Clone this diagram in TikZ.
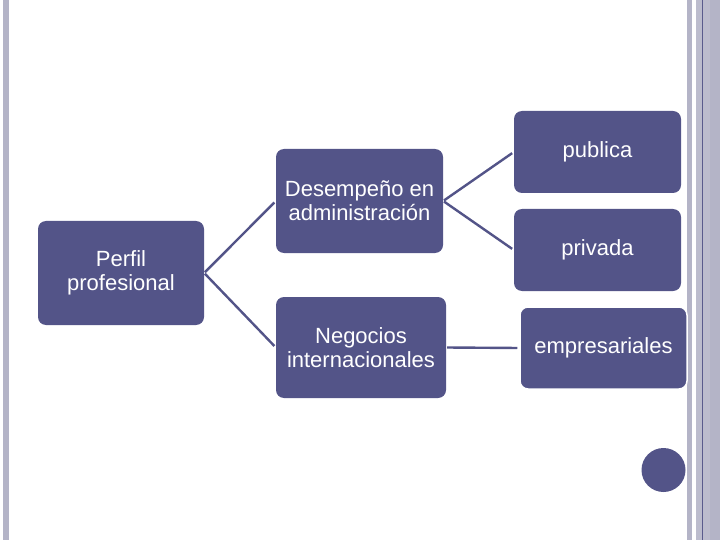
\documentclass[tikz,border=0pt]{standalone}
\usepackage{fontspec}
\setmainfont{Liberation Sans}
\usetikzlibrary{arrows.meta}

\definecolor{cajaazul}{HTML}{535488}
\definecolor{franja}{HTML}{B4B4C7}
\definecolor{franjaclara}{HTML}{BCBCCD}
\definecolor{lineafina}{HTML}{5A5B8C}

\tikzset{
    caja/.style={rectangle, rounded corners=8pt, fill=cajaazul, text=white,
        align=center, inner sep=0pt,
        font=\fontsize{22pt}{24pt}\selectfont},
    enlace/.style={draw=cajaazul, line width=2.4pt, shorten <=1pt, shorten >=2pt}
}

\begin{document}
\begin{tikzpicture}[
    x=1pt,
    y=-1pt
]

% 1. Page frame
\useasboundingbox (0,0) rectangle (720,540);
\fill[white] (0,0) rectangle (720,540);
% left stripe
\fill[franja] (3,0) rectangle (9,540);
% right stripes
\fill[franja] (687,0) rectangle (692,540);
\fill[franjaclara] (696,0) rectangle (710,540);
\fill[franja] (710,0) rectangle (720,540);
\draw[lineafina, line width=0.8pt] (702.5,0) -- (702.5,540);

% 2. Boxes
\node[caja, minimum width=166, minimum height=104] (perfil) at (121,273) {Perfil\\profesional};
\node[caja, minimum width=167, minimum height=104] (desempeno) at (359.5,201) {Desempeño en\\administración};
\node[caja, minimum width=170, minimum height=101] (negocios) at (361,347.5) {Negocios\\internacionales};
\node[caja, minimum width=167, minimum height=82] (publica) at (597.5,152) {publica};
\node[caja, minimum width=167, minimum height=82] (privada) at (597.5,250) {privada};
\node[caja, draw=white, line width=1.5pt, minimum width=167, minimum height=82] (empresariales) at (603.5,348) {empresariales};

% 3. Connectors
\draw[enlace] (perfil.east) -- (desempeno.west);
\draw[enlace] (perfil.east) -- (negocios.west);
\draw[enlace] (desempeno.east) -- (publica.west);
\draw[enlace] (desempeno.east) -- (privada.west);
\draw[enlace] (negocios.east) -- (empresariales.west);

% 4. Corner dot
\fill[cajaazul] (663.5,470) circle (22);

\end{tikzpicture}
\end{document}
